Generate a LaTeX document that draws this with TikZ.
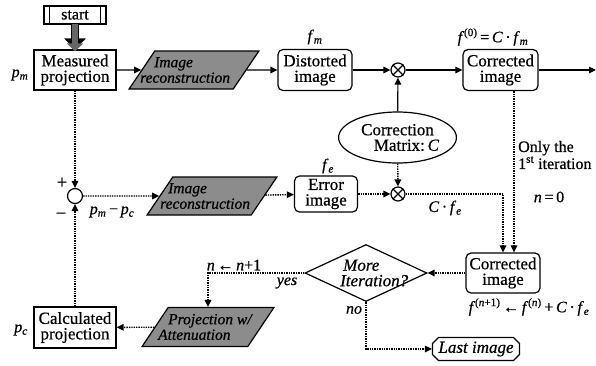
\documentclass[tikz,border=0pt]{standalone}
\usepackage{fontspec}
\setmainfont{Liberation Serif}[FakeBold=0.6]
\usetikzlibrary{arrows.meta,shapes.geometric,shapes.misc}
\begin{document}
\begin{tikzpicture}[x=1pt,y=-1pt,
  txt/.style={font=\fontsize{17}{15.5}\selectfont},
  box/.style={draw,line width=1.2pt,inner sep=0pt,align=center,txt},
  rbox/.style={box,rounded corners=5pt},
  para/.style={trapezium,draw,line width=1.2pt,fill=black!45,trapezium left angle=66,trapezium right angle=114,trapezium stretches=true,inner sep=0pt,font=\fontsize{17}{15.5}\selectfont},
  ptext/.style={inner sep=0pt,anchor=west,align=left,font=\fontsize{15.5}{15.5}\selectfont\itshape},
  arr/.style={line width=1.2pt,-{Triangle[length=7pt,width=6.5pt]}},
  dots/.style={arr,line width=1.4pt,dash pattern=on 1.4pt off 1pt},
  lbl/.style={inner sep=0pt,font=\fontsize{16}{16}\selectfont},
  otimes/.style={circle,draw,line width=1.2pt,minimum size=14pt,inner sep=0pt}
]
\useasboundingbox (0,0) rectangle (596,365);

% top row
\node[box,minimum width=62pt,minimum height=18pt,font=\fontsize{16}{15}\selectfont] (start) at (75,15) {start};
\draw[line width=1.2pt] ([xshift=6pt]start.north west) -- ([xshift=6pt]start.south west);
\draw[line width=1.2pt] ([xshift=-6pt]start.north east) -- ([xshift=-6pt]start.south east);
\node[box,minimum width=82pt,minimum height=40pt] (meas) at (75,70) {Measured\\projection};
\draw[line width=8pt,black,-{Triangle[length=11pt,width=21pt]}] (start.south) -- (meas.north);
\draw[line width=5.5pt,black!60,-{Triangle[length=8pt,width=16pt]}] ([yshift=0.5pt]start.south) -- ([yshift=-2pt]meas.north);
\node[para,minimum width=130pt,minimum height=38pt] (rec1) at (194,70) {\phantom{M}};
\node[ptext] (rec1t) at (140,70) {\hspace*{14pt}Image\\reconstruction};
\node[rbox,minimum width=74pt,minimum height=41pt] (dist) at (315,70) {Distorted\\image};
\node[otimes] (m1) at (398,70) {};
\draw[line width=1.2pt] (m1.north west) -- (m1.south east) (m1.north east) -- (m1.south west);
\node[rbox,minimum width=75pt,minimum height=41pt] (corr1) at (500.5,70) {Corrected\\image};
\coordinate (out) at (596,70);
\node[ellipse,draw,line width=1.2pt,minimum width=115pt,minimum height=51pt,inner sep=0pt,align=center,txt] (cm) at (397.5,137.5) {Correction\\\hspace*{18pt}Matrix:\,\textit{C}};

% middle row
\node[circle,draw,line width=1.2pt,minimum size=15pt,inner sep=0pt] (sum) at (75,196) {};
\node[para,minimum width=130pt,minimum height=38pt] (rec2) at (212,196) {\phantom{M}};
\node[ptext] (rec2t) at (160,196) {\hspace*{8pt}Image\\reconstruction};
\node[rbox,minimum width=63pt,minimum height=36pt] (err) at (326,194) {Error\\image};
\node[otimes] (m2) at (398,194) {};
\draw[line width=1.2pt] (m2.north west) -- (m2.south east) (m2.north east) -- (m2.south west);

% bottom rows
\node[rbox,minimum width=74pt,minimum height=40pt] (corr2) at (503,273) {Corrected\\image};
\node[diamond,draw,line width=1.2pt,minimum width=122pt,minimum height=57pt,inner sep=0pt,aspect=2.14] (more) at (366,273) {};
\node[ptext,font=\fontsize{17}{15.5}\selectfont\itshape] (moretxt) at (340,273) {\hspace*{3pt}More\\Iteration?};
\node[chamfered rectangle,chamfered rectangle xsep=3pt,chamfered rectangle ysep=3pt,draw,line width=1.2pt,minimum width=87pt,minimum height=23pt,inner sep=0pt,font=\fontsize{17}{15}\selectfont\itshape] (last) at (476,349) {Last image};
\node[para,minimum width=132pt,minimum height=39pt] (proj) at (208,327) {\phantom{M}};
\node[ptext] (projt) at (158,327) {\hspace*{10pt}Projection w/\\Attenuation};
\node[box,minimum width=82pt,minimum height=41pt] (calc) at (75,327.5) {Calculated\\projection};

% connectors
\draw[arr] (meas) -- (rec1);
\draw[arr] (rec1) -- (dist);
\draw[arr] (dist) -- (m1);
\draw[arr] (m1) -- (corr1);
\draw[arr] (corr1) -- (out);
\draw[arr] (cm) -- (m1);
\draw[dots] (cm) -- (m2);
\draw[dots] (meas) -- (sum);
\draw[dots] (calc) -- (sum);
\draw[dots] (sum) -- (rec2);
\draw[dots] (rec2) -- (err);
\draw[dots] (err) -- (m2);
\draw[dots] (m2.east) -| (corr2.north);
\draw[dots] ([xshift=13.5pt]corr1.south) -- ([xshift=11pt]corr2.north);
\draw[dots] (corr2) -- (more);
\draw[dots] (more.west) -| (proj.north);
\draw[dots] (proj) -- (calc);
\draw[dots] (more.south) |- (last.west);

% labels
\node[lbl] (lpm) at (20,75) {\textit{p}\textsubscript{\textit{m}}};
\node[lbl] (lpc) at (21,330) {\textit{p}\textsubscript{\textit{c}}};
\node[lbl] (lfm) at (315,37) {\textit{f}\textsubscript{\textit{m}}};
\node[lbl] (lf0) at (493,37) {\textit{f}\textsuperscript{(0)}\,=\,\textit{C}\,·\,\textit{f}\textsubscript{\textit{m}}};
\node[lbl] (lfe) at (328,166) {\textit{f}\textsubscript{\textit{e}}};
\node[lbl,font=\fontsize{19}{19}\selectfont] (plus) at (62,183) {+};
\node[lbl,font=\fontsize{19}{19}\selectfont] (minus) at (61,216) {−};
\node[lbl] (lpmpc) at (112,212) {\textit{p}\textsubscript{\textit{m}}\,−\,\textit{p}\textsubscript{\textit{c}}};
\node[lbl] (lcfe) at (445,208) {\textit{C}\,·\,\textit{f}\textsubscript{\textit{e}}};
\node[lbl,align=left,anchor=west,font=\fontsize{16}{16}\selectfont] (only) at (518,155) {Only the\\1\textsuperscript{st} iteration};
\node[lbl] (n0) at (549,197) {\textit{n}\,=\,0};
\node[lbl] (nn1) at (234,265) {\textit{n}\,←\,\textit{n}+1};
\node[lbl] (yes) at (287,283) {\textit{yes}};
\node[lbl] (no) at (354,310) {\textit{no}};
\node[lbl] (lfn) at (529,307) {\textit{f}\textsuperscript{(\textit{n}+1)}\,←\,\textit{f}\textsuperscript{(\textit{n})}\,+\,\textit{C}\,·\,\textit{f}\textsubscript{\textit{e}}};
\end{tikzpicture}
\end{document}
